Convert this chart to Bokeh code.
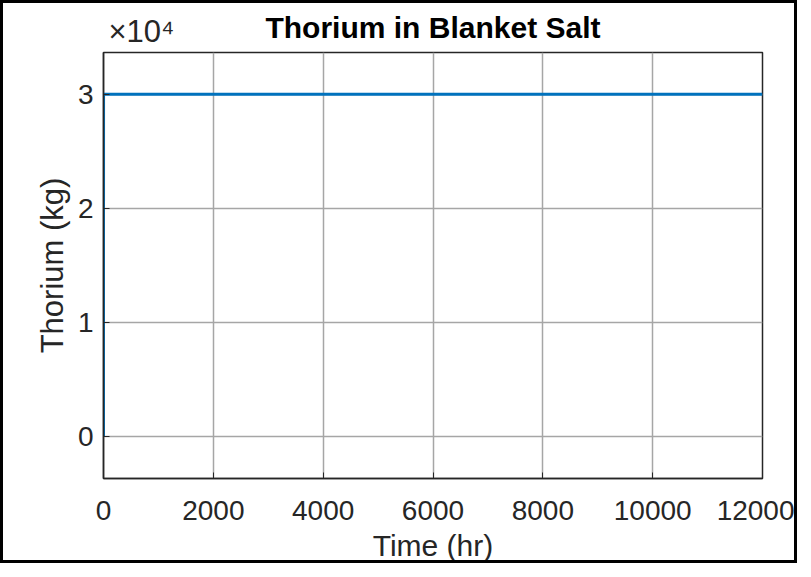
from bokeh.plotting import figure
from bokeh.models import Range1d, FixedTicker, LinearAxis
from bokeh.embed import file_html
from bokeh.resources import INLINE

# data
time_hr = [0, 1, 12000]
thorium_kg = [0, 30000, 30000]
x_ticks = [0, 2000, 4000, 6000, 8000, 10000, 12000]
y_ticks = [0, 10000, 20000, 30000]
y_tick_labels = {0: "0", 10000: "1", 20000: "2", 30000: "3"}
exponent_at = 690
exponent_label = {exponent_at: "×10⁴"}
title_text = "Thorium in Blanket Salt"

FONT = "Liberation Sans"
AX = "#262626"
W, H = 797, 563

p = figure(width=W, height=H, output_backend="svg", toolbar_location=None,
           x_range=Range1d(0, 12000), y_range=Range1d(-3670, 33670),
           min_border_left=100, min_border_right=38, min_border_top=49, min_border_bottom=88)
p.styles = {"border": "3px solid black"}

p.line(time_hr, thorium_kg, line_color="#0072BD", line_width=3)

p.outline_line_color = AX
p.outline_line_width = 1.5

xax = p.below[0]
yax = p.left[0]
for ax in (xax, yax):
    ax.axis_line_color = AX
    ax.axis_line_width = 1.5
    ax.major_tick_in = 6
    ax.major_tick_out = 0
    ax.minor_tick_line_color = None
    ax.major_tick_line_color = AX
    ax.major_label_text_font = FONT
    ax.major_label_text_font_size = "28px"
    ax.major_label_text_color = AX
    ax.axis_label_text_font = FONT
    ax.axis_label_text_font_style = "normal"
    ax.axis_label_text_color = AX

xax.axis_label_text_font_size = "30px"
yax.axis_label_text_font_size = "31px"
xax.ticker = FixedTicker(ticks=x_ticks)
yax.ticker = FixedTicker(ticks=y_ticks)
yax.major_label_overrides = y_tick_labels
xax.axis_label = "Time (hr)"
yax.axis_label = "Thorium (kg)"
xax.major_label_standoff = 22
yax.major_label_standoff = 10
xax.axis_label_standoff = 6
yax.axis_label_standoff = 5

p.xgrid.ticker = FixedTicker(ticks=x_ticks)
p.ygrid.ticker = FixedTicker(ticks=y_ticks)
p.grid.grid_line_color = "#a6a6a6"
p.grid.grid_line_width = 1.5

# top axis: carries the exponent marker (as its tick label) and the title (as its label)
top = LinearAxis(ticker=FixedTicker(ticks=[exponent_at]), major_label_overrides=exponent_label,
                 axis_label=title_text)
top.axis_line_color = None
top.major_tick_line_color = None
top.minor_tick_line_color = None
top.major_label_text_font = FONT
top.major_label_text_font_size = "31px"
top.major_label_text_color = AX
top.major_label_standoff = -2
top.axis_label_text_font = FONT
top.axis_label_text_font_size = "30px"
top.axis_label_text_font_style = "bold"
top.axis_label_text_color = "#000000"
top.axis_label_standoff = -33
p.add_layout(top, "above")

open("out.html", "w").write(file_html(p, INLINE))
